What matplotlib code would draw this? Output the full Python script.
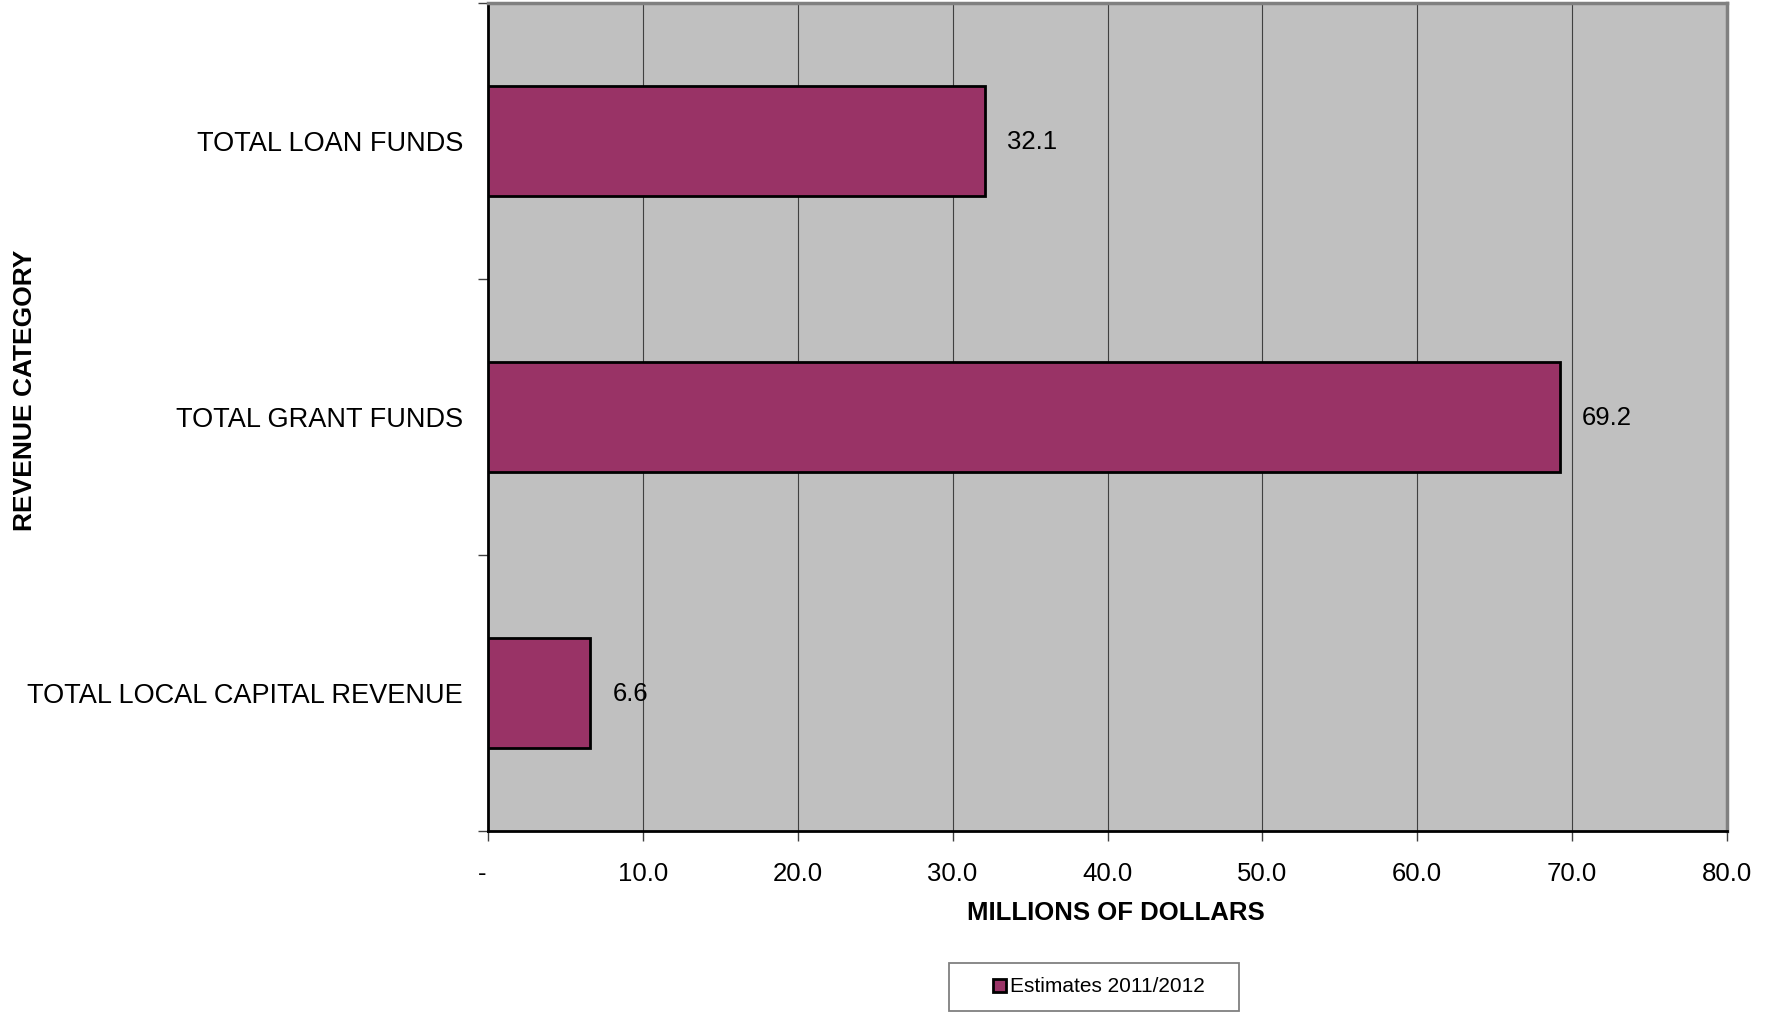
import matplotlib
matplotlib.use("Agg")
import matplotlib.pyplot as plt
from matplotlib.patches import Patch, Rectangle
from matplotlib.transforms import ScaledTranslation

categories = ["TOTAL LOCAL CAPITAL REVENUE", "TOTAL GRANT FUNDS", "TOTAL LOAN FUNDS"]
values = [6.6, 69.2, 32.1]
x_ticks = [0, 10, 20, 30, 40, 50, 60, 70, 80]
x_tick_labels = ["-", "10.0", "20.0", "30.0", "40.0", "50.0", "60.0", "70.0", "80.0"]
series_name = "Estimates 2011/2012"

plt.rcParams['font.family'] = ['Liberation Sans', 'DejaVu Sans']

W, H = 1775, 1018
fig = plt.figure(figsize=(W / 100, H / 100), dpi=100)
L, R, T, B = 488, 1727, 3, 831
ax = fig.add_axes([L / W, 1 - B / H, (R - L) / W, (B - T) / H])
ax.set_facecolor('#C0C0C0')

ypos = list(range(len(categories)))
ax.barh(ypos, values, height=0.40, color='#993366', edgecolor='black', linewidth=2, zorder=3)
for y, v in zip(ypos, values):
    ax.annotate(f"{v:.1f}", (v, y), xytext=(16, -1), textcoords='offset points',
                va='center', ha='left', fontsize=18.5, color='black')

ax.set_xlim(0, 80)
ax.set_ylim(-0.5, len(categories) - 0.5)
ax.set_xticks(x_ticks)
ax.set_xticklabels(x_tick_labels, fontsize=18.5)
ax.tick_params(axis='x', length=7, width=1, color='#404040', pad=15, direction='out')
first = ax.xaxis.get_major_ticks()[0].label1
first.set_transform(first.get_transform() + ScaledTranslation(-0.06, 0, fig.dpi_scale_trans))
ax.set_yticks(ypos)
ax.set_yticklabels(categories, fontsize=19.5)
ax.tick_params(axis='y', which='major', length=0, pad=18)
ax.set_yticks([-0.5, 0.5, 1.5, 2.5], minor=True)
ax.tick_params(axis='y', which='minor', length=7, width=1, color='#404040', direction='out')

ax.grid(axis='x', color='#404040', linewidth=0.8, zorder=1)
ax.set_axisbelow(True)
for s in ['left', 'bottom']:
    ax.spines[s].set_color('black')
    ax.spines[s].set_linewidth(2)
for s in ['top', 'right']:
    ax.spines[s].set_color('#808080')
    ax.spines[s].set_linewidth(2.5)

fig.text(1116 / W, 1 - 913 / H, "MILLIONS OF DOLLARS", ha='center', va='center',
         fontsize=18.5, fontweight='bold')
fig.text(25 / W, 1 - 390 / H, "REVENUE CATEGORY", ha='center', va='center',
         rotation=90, fontsize=19, fontweight='bold')

# legend frame
fig.patches.append(Rectangle((949 / W, 1 - 1011 / H), (1239 - 949) / W, (1011 - 963) / H,
                             transform=fig.transFigure, facecolor='white', edgecolor='#808080',
                             linewidth=1.3, zorder=0))
handle = Patch(facecolor='#993366', edgecolor='black', linewidth=2)
leg = fig.legend([handle], [series_name], loc='center', bbox_to_anchor=(1099 / W, 1 - 987 / H),
                 fontsize=15, frameon=False, handlelength=0.6, handleheight=0.6,
                 handletextpad=0.2, borderpad=0, borderaxespad=0)

fig.savefig("out.png", dpi=100)
